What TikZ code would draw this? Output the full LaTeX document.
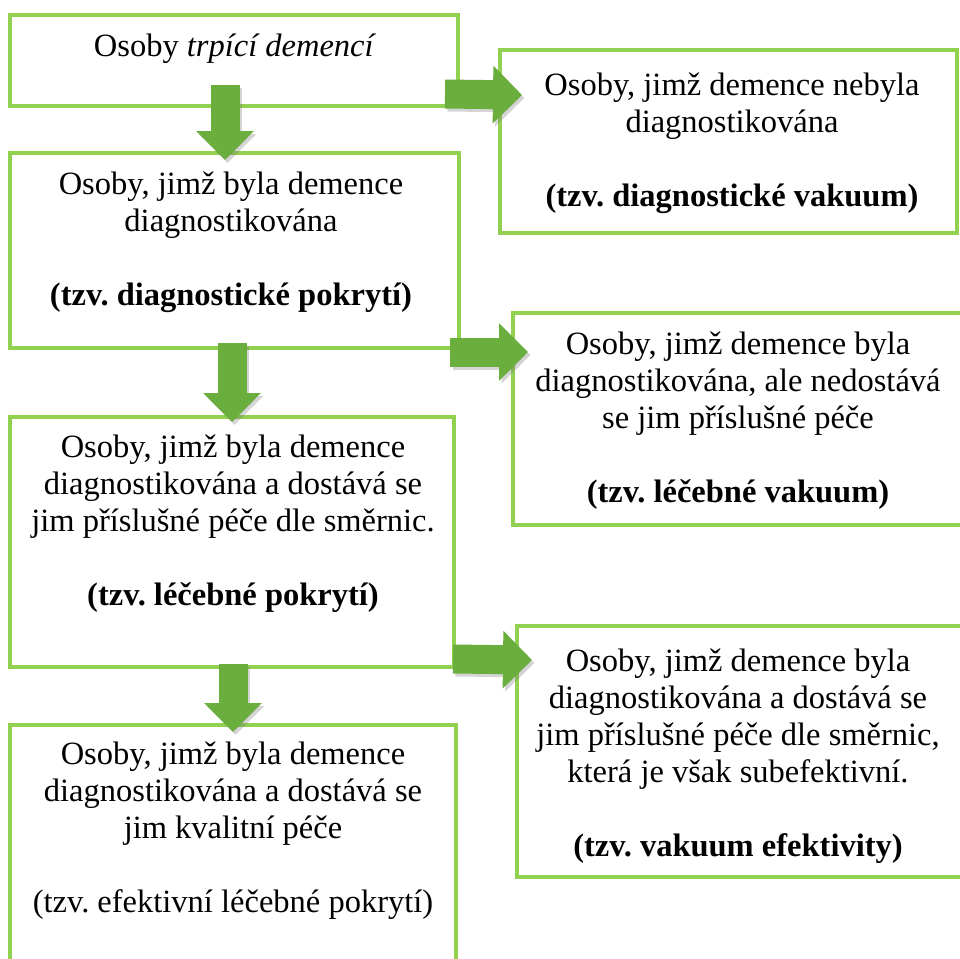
\documentclass[tikz,border=0pt]{standalone}
\usepackage{fontspec}
\setmainfont{Liberation Serif}
\frenchspacing
\usetikzlibrary{arrows.meta}
\definecolor{frameGreen}{HTML}{92D050}
\definecolor{arrowGreen}{HTML}{6AAE3E}
\tikzset{
  box/.style={draw=frameGreen, line width=4pt, fill=white, rectangle,
              inner sep=0pt, outer sep=0pt, anchor=north west},
  label/.style={align=center, inner sep=0pt, anchor=north,
                font=\fontsize{32.5}{37}\selectfont},
  blockarrow/.style={draw=arrowGreen, line width=29pt, line cap=butt,
                     -{Triangle[width=56pt,length=29pt]}},
  blockshadow/.style={draw=black!55, opacity=0.30, line width=29pt, line cap=butt,
                      -{Triangle[width=56pt,length=29pt]}},
}
\begin{document}
\begin{tikzpicture}[x=1pt,y=-1pt]
  \useasboundingbox (0,0) rectangle (960,958);
  \clip (0,0) rectangle (960,958);

  % frames: left column
  \node[box, minimum width=448pt, minimum height=91pt]  (b1) at (10,15) {};
  \node[box, minimum width=449pt, minimum height=195pt] (b2) at (10,153) {};
  \node[box, minimum width=444pt, minimum height=250pt] (b3) at (10,417) {};
  \node[box, minimum width=446pt, minimum height=260pt] (b4) at (10,725) {};
  % frames: right column
  \node[box, minimum width=457pt, minimum height=183pt] (r1) at (500,50) {};
  \node[box, minimum width=455pt, minimum height=212pt] (r2) at (513,313) {};
  \node[box, minimum width=451pt, minimum height=251pt] (r3) at (517,626) {};

  % soft shadows under the block arrows
  \begin{scope}[transform canvas={xshift=2.5pt,yshift=-3pt}]
    \draw[blockshadow] ([xshift=-9pt,yshift=21pt]b1.south) -- ([xshift=-9.5pt,yshift=-7pt]b2.north);
    \draw[blockshadow] ([xshift=-2.5pt,yshift=5pt]b2.south) -- ([xshift=0pt,yshift=-5pt]b3.north);
    \draw[blockshadow] ([xshift=1pt,yshift=3pt]b3.south) -- ([xshift=0pt,yshift=-7pt]b4.north);
    \draw[blockshadow] ([xshift=-13pt,yshift=12pt]b1.south east) -- ([xshift=22pt,yshift=-45pt]r1.north west);
    \draw[blockshadow] ([xshift=-9pt,yshift=-4pt]b2.south east) -- ([xshift=15pt,yshift=-39pt]r2.north west);
    \draw[blockshadow] ([xshift=-1pt,yshift=8pt]b3.south east) -- ([xshift=15pt,yshift=-34pt]r3.north west);
  \end{scope}
  % downward block arrows
  \draw[blockarrow] ([xshift=-9pt,yshift=21pt]b1.south) -- ([xshift=-9.5pt,yshift=-7pt]b2.north);
  \draw[blockarrow] ([xshift=-2.5pt,yshift=5pt]b2.south) -- ([xshift=0pt,yshift=-5pt]b3.north);
  \draw[blockarrow] ([xshift=1pt,yshift=3pt]b3.south) -- ([xshift=0pt,yshift=-7pt]b4.north);
  % rightward block arrows
  \draw[blockarrow] ([xshift=-13pt,yshift=12pt]b1.south east) -- ([xshift=22pt,yshift=-45pt]r1.north west);
  \draw[blockarrow] ([xshift=-9pt,yshift=-4pt]b2.south east) -- ([xshift=15pt,yshift=-39pt]r2.north west);
  \draw[blockarrow] ([xshift=-1pt,yshift=8pt]b3.south east) -- ([xshift=15pt,yshift=-34pt]r3.north west);

  % texts
  \node[label] (t1) at (235,34) {Osoby \textit{trpící demencí}};
  \node[label] (t2) at (231,172) {Osoby, jimž byla demence\\diagnostikována\\[37pt]\textbf{(tzv. diagnostické pokrytí)}};
  \node[label] (t3) at (233,435) {Osoby, jimž byla demence\\diagnostikována a dostává se\\jim příslušné péče dle směrnic.\\[37pt]\textbf{(tzv. léčebné pokrytí)}};
  \node[label] (t4) at (233,742) {Osoby, jimž byla demence\\diagnostikována a dostává se\\jim kvalitní péče\\[37pt](tzv. efektivní léčebné pokrytí)};
  \node[label] (t5) at (732,73) {Osoby, jimž demence nebyla\\diagnostikována\\[37pt]\textbf{(tzv. diagnostické vakuum)}};
  \node[label] (t6) at (738,332) {Osoby, jimž demence byla\\diagnostikována, ale nedostává\\se jim příslušné péče\\[37pt]\textbf{(tzv. léčebné vakuum)}};
  \node[label] (t7) at (738,649) {Osoby, jimž demence byla\\diagnostikována a dostává se\\jim příslušné péče dle směrnic,\\která je však subefektivní.\\[37pt]\textbf{(tzv. vakuum efektivity)}};
\end{tikzpicture}
\end{document}
